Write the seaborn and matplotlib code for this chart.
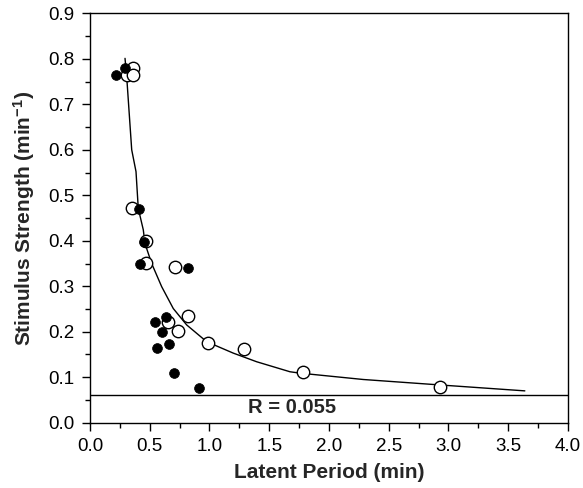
import numpy as np
import pandas as pd
import matplotlib
matplotlib.use("Agg")
import matplotlib.pyplot as plt
import seaborn as sns
from matplotlib.ticker import MultipleLocator

# filled circles
filled_x = [0.22, 0.29, 0.41, 0.45, 0.42, 0.82, 0.64, 0.54, 0.60, 0.56, 0.66, 0.70, 0.91]
filled_y = [0.765, 0.780, 0.469, 0.398, 0.349, 0.341, 0.233, 0.221, 0.200, 0.165, 0.173, 0.109, 0.076]
# open circles
open_x = [0.31, 0.36, 0.36, 0.35, 0.47, 0.47, 0.71, 0.655, 0.74, 0.82, 0.99, 1.29, 1.78, 2.93]
open_y = [0.765, 0.780, 0.765, 0.471, 0.399, 0.352, 0.343, 0.222, 0.202, 0.235, 0.175, 0.162, 0.111, 0.078]
# fitted curve
curve_x = [0.293, 0.307, 0.349, 0.385, 0.404, 0.446, 0.460, 0.516, 0.600, 0.697, 0.809,
           0.977, 1.199, 1.395, 1.674, 1.757, 2.287, 2.929, 3.640]
curve_y = [0.801, 0.761, 0.600, 0.552, 0.471, 0.424, 0.394, 0.350, 0.299, 0.251, 0.215,
           0.178, 0.153, 0.134, 0.112, 0.109, 0.095, 0.083, 0.070]
rheobase_line = 0.062
label_text = "R = 0.055"

sns.set_style("ticks")
plt.rcParams['font.family'] = ['Liberation Sans', 'DejaVu Sans']
plt.rcParams['mathtext.fontset'] = 'custom'
plt.rcParams['mathtext.rm'] = 'Liberation Sans:bold'
plt.rcParams['mathtext.it'] = 'Liberation Sans:bold'
plt.rcParams['mathtext.bf'] = 'Liberation Sans:bold'

fig = plt.figure(figsize=(5.83, 4.88), dpi=100)
ax = fig.add_axes([0.1544, 0.1338, 0.8196, 0.8389])

curve = pd.DataFrame({"x": curve_x, "y": curve_y})
sns.lineplot(data=curve, x="x", y="y", sort=False, color="black", lw=1.0, ax=ax)

dfo = pd.DataFrame({"x": open_x, "y": open_y})
dff = pd.DataFrame({"x": filled_x, "y": filled_y})
sns.scatterplot(data=dfo, x="x", y="y", marker="o", s=80, facecolor="white",
                edgecolor="black", linewidth=1.0, ax=ax, zorder=3)
sns.scatterplot(data=dff, x="x", y="y", marker="o", s=50, color="black",
                edgecolor="black", linewidth=0.5, ax=ax, zorder=4)

ax.axhline(rheobase_line, color="black", lw=1.0)
ax.text(1.325, 0.033, label_text, fontsize=14.5, fontweight="bold", va="center", ha="left")

ax.set_xlim(0, 4.0)
ax.set_ylim(0, 0.9)
ax.xaxis.set_major_locator(MultipleLocator(0.5))
ax.xaxis.set_minor_locator(MultipleLocator(0.25))
ax.yaxis.set_major_locator(MultipleLocator(0.1))
ax.yaxis.set_minor_locator(MultipleLocator(0.05))
ax.set_xticklabels([f"{v:.1f}" for v in ax.get_xticks()])
ax.set_yticklabels([f"{v:.1f}" for v in ax.get_yticks()])
ax.tick_params(which="major", direction="out", length=6, width=1, labelsize=13.5,
               color="black", labelcolor="black", pad=5)
ax.tick_params(which="minor", direction="out", length=3.5, width=1, color="black")
for sp in ax.spines.values():
    sp.set_visible(True)
    sp.set_color("black")
    sp.set_linewidth(1.0)

ax.set_xlabel("Latent Period (min)", fontsize=15, fontweight="bold", labelpad=6)
ax.set_ylabel("Stimulus Strength (min$^{-1}$)", fontsize=15, fontweight="bold", labelpad=8)

fig.savefig("out.png", dpi=100)
